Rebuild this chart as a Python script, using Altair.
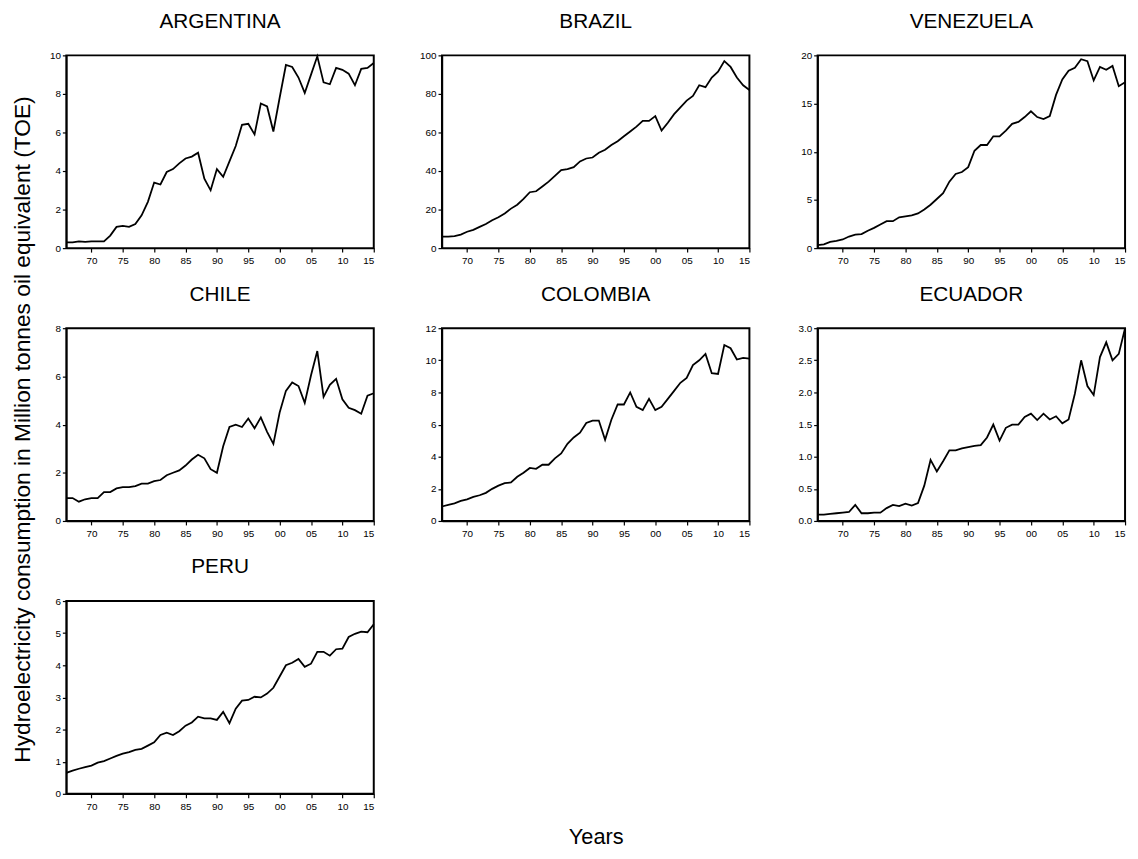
import altair as alt
import pandas as pd

years = list(range(1966, 2016))

argentina = [0.30, 0.30, 0.35, 0.32, 0.35, 0.35, 0.35, 0.65, 1.10, 1.15,
             1.10, 1.25, 1.70, 2.40, 3.40, 3.30, 3.95, 4.10, 4.40, 4.65,
             4.75, 4.95, 3.60, 3.00, 4.10, 3.70, 4.50, 5.30, 6.40, 6.45,
             5.90, 7.50, 7.35, 6.05, 7.80, 9.50, 9.40, 8.85, 8.05, 9.00,
             9.95, 8.60, 8.50, 9.35, 9.25, 9.05, 8.45, 9.30, 9.35, 9.60]
brazil = [6.0, 6.0, 6.2, 7.0, 8.5, 9.5, 11.0, 12.5, 14.5, 16.0,
          18.0, 20.5, 22.5, 25.5, 29.0, 29.5, 32.0, 34.5, 37.5, 40.5,
          41.0, 42.0, 45.0, 46.5, 47.0, 49.5, 51.0, 53.5, 55.5, 58.0,
          60.5, 63.0, 66.0, 66.0, 68.5, 61.0, 65.0, 69.5, 73.0, 76.5,
          79.0, 84.5, 83.5, 88.5, 91.5, 97.0, 94.0, 88.5, 84.5, 82.0]
venezuela = [0.3, 0.4, 0.65, 0.75, 0.9, 1.2, 1.4, 1.45, 1.8, 2.1,
             2.45, 2.8, 2.8, 3.2, 3.3, 3.4, 3.6, 4.0, 4.5, 5.1,
             5.7, 6.9, 7.7, 7.9, 8.4, 10.1, 10.7, 10.7, 11.6, 11.6,
             12.2, 12.9, 13.1, 13.6, 14.2, 13.6, 13.4, 13.7, 15.9, 17.5,
             18.4, 18.7, 19.6, 19.4, 17.4, 18.8, 18.5, 18.9, 16.8, 17.2]
chile = [0.95, 0.95, 0.80, 0.90, 0.95, 0.95, 1.20, 1.20, 1.35, 1.40,
         1.40, 1.45, 1.55, 1.55, 1.65, 1.70, 1.90, 2.00, 2.10, 2.30,
         2.55, 2.75, 2.60, 2.15, 2.00, 3.10, 3.90, 4.00, 3.90, 4.25,
         3.85, 4.30, 3.70, 3.20, 4.50, 5.40, 5.75, 5.60, 4.90, 6.05,
         7.05, 5.15, 5.65, 5.90, 5.05, 4.70, 4.60, 4.45, 5.20, 5.30]
colombia = [0.90, 1.00, 1.10, 1.25, 1.35, 1.50, 1.60, 1.75, 2.00, 2.20,
            2.35, 2.40, 2.75, 3.00, 3.30, 3.25, 3.50, 3.50, 3.90, 4.20,
            4.80, 5.20, 5.50, 6.10, 6.25, 6.25, 5.05, 6.30, 7.25, 7.25,
            8.00, 7.10, 6.90, 7.60, 6.90, 7.10, 7.60, 8.10, 8.60, 8.90,
            9.70, 10.00, 10.40, 9.20, 9.15, 10.95, 10.75, 10.05, 10.15, 10.10]
ecuador = [0.10, 0.10, 0.11, 0.12, 0.13, 0.14, 0.25, 0.12, 0.12, 0.13,
           0.13, 0.20, 0.25, 0.23, 0.27, 0.24, 0.28, 0.55, 0.95, 0.77,
           0.93, 1.10, 1.10, 1.13, 1.15, 1.17, 1.18, 1.30, 1.50, 1.25,
           1.45, 1.50, 1.50, 1.62, 1.67, 1.57, 1.67, 1.58, 1.63, 1.52,
           1.58, 1.98, 2.50, 2.10, 1.96, 2.55, 2.78, 2.50, 2.60, 3.00]
peru = [0.65, 0.72, 0.78, 0.83, 0.88, 0.97, 1.02, 1.10, 1.18, 1.25,
        1.30, 1.37, 1.40, 1.50, 1.60, 1.83, 1.90, 1.83, 1.95, 2.12,
        2.22, 2.40, 2.35, 2.35, 2.30, 2.55, 2.20, 2.65, 2.90, 2.92,
        3.02, 3.00, 3.12, 3.30, 3.65, 4.00, 4.08, 4.20, 3.95, 4.05,
        4.42, 4.42, 4.30, 4.50, 4.52, 4.88, 4.98, 5.05, 5.03, 5.28]

panels = [
    ("ARGENTINA", argentina, [0, 2, 4, 6, 8, 10], "d"),
    ("BRAZIL", brazil, [0, 20, 40, 60, 80, 100], "d"),
    ("VENEZUELA", venezuela, [0, 5, 10, 15, 20], "d"),
    ("CHILE", chile, [0, 2, 4, 6, 8], "d"),
    ("COLOMBIA", colombia, [0, 2, 4, 6, 8, 10, 12], "d"),
    ("ECUADOR", ecuador, [0.0, 0.5, 1.0, 1.5, 2.0, 2.5, 3.0], ".1f"),
    ("PERU", peru, [0, 1, 2, 3, 4, 5, 6], "d"),
]

x_ticks = [1970, 1975, 1980, 1985, 1990, 1995, 2000, 2005, 2010, 2015]
y_title = "Hydroelectricity consumption in Million tonnes oil equivalent (TOE)"
x_title = "Years"

FONT = "Liberation Sans"
W, H = 311, 195


def make_panel(name, values, yticks, fmt):
    df = pd.DataFrame({"year": years, "value": values})
    line = alt.Chart(df).mark_line(color="black", strokeWidth=1.8).encode(
        x=alt.X("year:Q",
                scale=alt.Scale(domain=[years[0], years[-1]], nice=False, zero=False),
                axis=alt.Axis(values=x_ticks, title=None,
                              labelExpr="substring(toString(datum.value), 2)")),
        y=alt.Y("value:Q",
                scale=alt.Scale(domain=[yticks[0], yticks[-1]], nice=False),
                axis=alt.Axis(values=yticks, format=fmt, title=None)),
    )
    layers = [line]
    if name == "PERU":
        layers.append(
            alt.Chart(pd.DataFrame({"t": [x_title]})).mark_text(
                fontSize=22, font=FONT, color="black",
                align="center", baseline="middle"
            ).encode(text="t:N", x=alt.value(536), y=alt.value(239))
        )
    return alt.layer(*layers).properties(
        width=W, height=H,
        title=alt.TitleParams(name, fontSize=21, font=FONT, fontWeight="normal",
                              color="black", offset=19, anchor="middle"),
    )


charts = [make_panel(*p) for p in panels]

chart = alt.concat(
    *charts, columns=3, spacing={"row": 81, "column": 69}, bounds="flush"
).properties(
    title=alt.TitleParams(y_title, orient="left", anchor="middle", fontSize=23,
                          font=FONT, fontWeight="normal", color="black", offset=14),
    padding={"left": 3, "top": -3, "right": 0, "bottom": 2},
    background="white",
).configure_view(
    stroke="black", strokeWidth=2
).configure_axis(
    grid=False, domainColor="black", domainWidth=1.5, tickColor="black",
    tickWidth=1.2, tickSize=4, labelFont=FONT, labelFontSize=10,
    labelColor="black", labelPadding=2
).configure_axisX(
    labelPadding=4
)

chart.save("out.html", embed_options={"renderer": "svg", "actions": False})
